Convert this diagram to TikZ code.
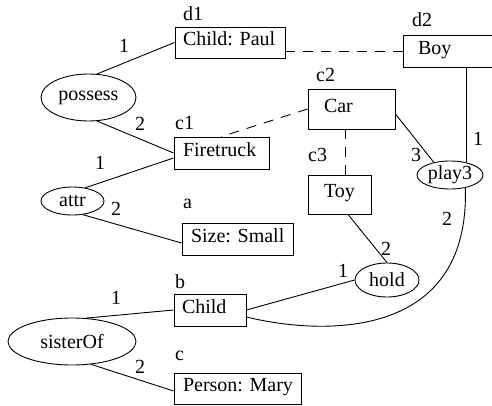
\documentclass[tikz,border=0pt]{standalone}
\usepackage{fontspec}
\setmainfont{Liberation Serif}
\usetikzlibrary{shapes.geometric}
\begin{document}
\begin{tikzpicture}[x=1pt,y=-1pt,
  every node/.style={font=\fontsize{20}{24}\selectfont},
  conn/.style={line width=0.9pt},
  coref/.style={line width=0.9pt, dash pattern=on 10pt off 8pt},
  concept/.style={draw, rectangle, line width=0.9pt, inner ysep=0pt,
    text height=0.68em, text depth=0pt},
  relation/.style={draw, ellipse, line width=0.9pt, inner sep=0pt},
  num/.style={inner sep=0pt},
  tag/.style={inner sep=0pt, anchor=base west}]
\useasboundingbox (0,0) rectangle (492,406);

% concept boxes: inner xsep is the left margin of the text, the
% makebox fixes the remaining width so the text stays left aligned
\node[concept, minimum height=31pt, inner xsep=8pt]  (d1) at (230,42.5)   {\makebox[94pt][l]{Child: Paul}};
\node[concept, minimum height=32pt, inner xsep=15pt] (d2) at (449.5,51)   {\makebox[63pt][l]{Boy}};
\node[concept, minimum height=40pt, inner xsep=16pt] (c2) at (351.5,109)  {\makebox[55pt][l]{Car}};
\node[concept, minimum height=39pt, inner xsep=16pt] (c3) at (339.5,194.5){\makebox[31pt][l]{Toy}};
\node[concept, minimum height=32pt, inner xsep=9pt]  (c1) at (221.5,153)  {\makebox[77pt][l]{Firetruck}};
\node[concept, minimum height=32pt, inner xsep=9pt]  (a)  at (237.5,239)  {\makebox[93pt][l]{Size: Small}};
\node[concept, minimum height=32pt, inner xsep=8pt]  (b)  at (210,310)    {\makebox[56pt][l]{Child}};
\node[concept, minimum height=31pt, inner xsep=9pt]  (c)  at (237.5,388.5){\makebox[109pt][l]{Person: Mary}};

% concept labels
\node[tag] (t-d1) at (183,21)  {d1};
\node[tag] (t-d2) at (412,27)  {d2};
\node[tag] (t-c1) at (175,130) {c1};
\node[tag] (t-c2) at (316,82)  {c2};
\node[tag] (t-c3) at (308,162) {c3};
\node[tag] (t-a)  at (183,208) {a};
\node[tag] (t-b)  at (175,288) {b};
\node[tag] (t-c)  at (175,360) {c};

% relation ellipses
\node[relation, minimum width=95pt,  minimum height=47pt] (possess)  at (88.5,97.5) {possess};
\node[relation, minimum width=63pt,  minimum height=28pt] (attr)     at (72.5,201)  {attr};
\node[relation, minimum width=128pt, minimum height=47pt] (sisterOf) at (72,341.5)  {sisterOf};
\node[relation, minimum width=64pt,  minimum height=34pt] (hold)     at (387,280)   {hold};
\node[relation, minimum width=66pt,  minimum height=28pt] (play3)    at (450,175)   {play3};

% relation arcs
\draw[conn] (possess.70)  -- (d1.west);
\draw[conn] (possess.-70) -- (c1.west);
\draw[conn] (attr.46)  -- ([yshift=-5pt]c1.west);
\draw[conn] (attr.-53) -- ([yshift=-4pt]a.west);
\draw[conn] (sisterOf.59)  -- (b.west);
\draw[conn] (sisterOf.-50) -- ([yshift=-2.5pt]c.west);
\draw[conn] (b.east) -- (hold.west);
\draw[conn] ([xshift=8.5pt]c3.south) -- (hold.north);
\draw[conn] ([yshift=-5pt]c2.east) -- (play3.142.7);
\draw[conn] (play3.37.3) -- (play3.37.3 |- d2.south);
\draw[conn] ([yshift=-7pt]b.east) .. controls (320,335) and (470,342) .. (play3.-40);

% coreference links
\coordinate (tx) at (345,0);
\draw[coref] (d2.west) -- (d2.west -| d1.east);
\draw[coref] (c2.west) -- (c1.north);
\draw[coref] (c2.south -| tx) -- (c3.north -| tx);

% arc numbers
\node[num] (n1) at (124,46)  {1};
\node[num] (n2) at (140,124) {2};
\node[num] (n3) at (100,163) {1};
\node[num] (n4) at (116,209) {2};
\node[num] (n5) at (116,298) {1};
\node[num] (n6) at (140,367) {2};
\node[num] (n7) at (343,271) {1};
\node[num] (n8) at (386,249) {2};
\node[num] (n9) at (416,155) {3};
\node[num] (n10) at (478,139) {1};
\node[num] (n11) at (447,219) {2};
\end{tikzpicture}
\end{document}
